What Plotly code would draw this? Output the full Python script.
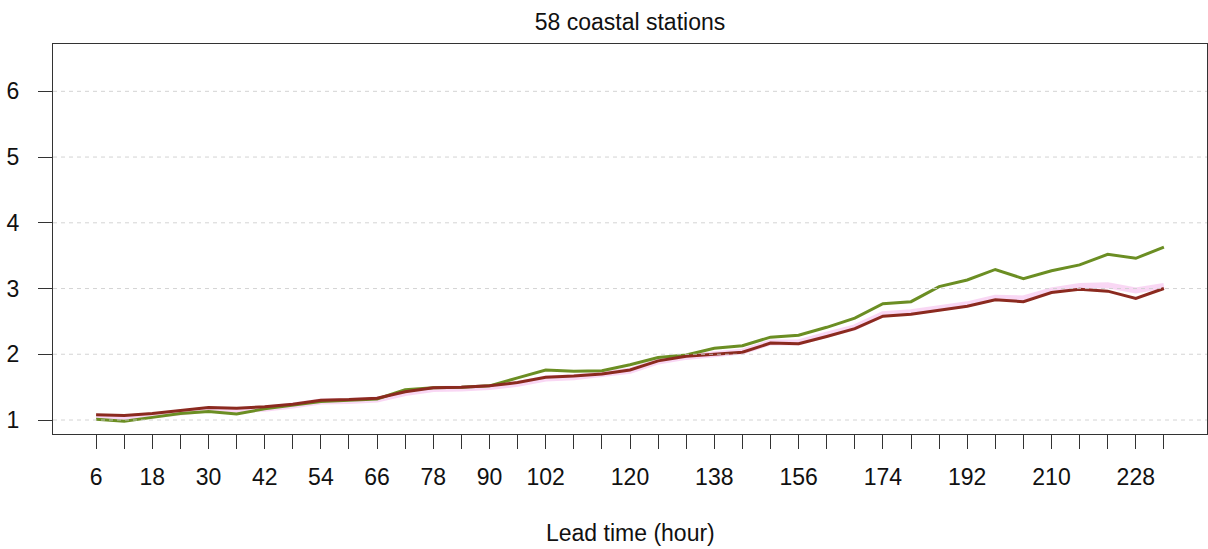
import plotly.graph_objects as go

# Lead times (hours), every 6 h
lead_time = list(range(6, 235, 6))

# Series values per lead time
green_vals = [1.01, 0.98, 1.04, 1.10, 1.13, 1.09, 1.17, 1.22, 1.28, 1.30, 1.32, 1.46, 1.49, 1.50, 1.52,
              1.64, 1.76, 1.74, 1.75, 1.84, 1.95, 1.99, 2.09, 2.13, 2.26, 2.29, 2.41, 2.55, 2.77, 2.80,
              3.03, 3.13, 3.29, 3.15, 3.27, 3.36, 3.52, 3.46, 3.63]
red_vals = [1.08, 1.07, 1.10, 1.15, 1.19, 1.18, 1.20, 1.24, 1.30, 1.31, 1.33, 1.43, 1.49, 1.50, 1.52,
            1.57, 1.65, 1.67, 1.70, 1.76, 1.90, 1.97, 2.00, 2.03, 2.17, 2.16, 2.27, 2.39, 2.58, 2.61,
            2.67, 2.73, 2.83, 2.80, 2.94, 2.99, 2.96, 2.85, 3.00]
pink_vals = [1.04, 1.04, 1.07, 1.12, 1.16, 1.15, 1.17, 1.22, 1.28, 1.29, 1.31, 1.41, 1.47, 1.48, 1.50,
             1.55, 1.63, 1.65, 1.69, 1.75, 1.89, 1.96, 2.00, 2.04, 2.18, 2.18, 2.30, 2.41, 2.61, 2.64,
             2.70, 2.76, 2.86, 2.85, 2.97, 3.04, 3.05, 2.97, 3.04]

# Tick labels shown along the x axis (other lead times get an unlabeled tick)
labeled_hours = [6, 18, 30, 42, 54, 66, 78, 90, 102, 120, 138, 156, 174, 192, 210, 228]
tick_text = [str(h) if h in labeled_hours else "" for h in lead_time]
y_ticks = [1, 2, 3, 4, 5, 6]

font_family = "Liberation Sans, Arial, sans-serif"
fs = 23

fig = go.Figure()
fig.add_trace(go.Scatter(x=lead_time, y=pink_vals, mode="lines",
                         line=dict(color="rgba(248,208,242,0.85)", width=6),
                         showlegend=False, hoverinfo="skip"))
fig.add_trace(go.Scatter(x=lead_time, y=green_vals, mode="lines",
                         line=dict(color="#6b8e23", width=3), showlegend=False))
fig.add_trace(go.Scatter(x=lead_time, y=red_vals, mode="lines",
                         line=dict(color="#8b2a1f", width=3), showlegend=False))

# Dashed horizontal guides, drawn above the lines
for yv in y_ticks:
    fig.add_shape(type="line", xref="paper", x0=0, x1=1, yref="y", y0=yv, y1=yv,
                  line=dict(color="rgba(205,205,205,0.85)", width=1, dash="4px,4px"),
                  layer="above")

fig.update_layout(
    width=1208, height=549,
    margin=dict(l=53, r=1, t=44, b=115),
    paper_bgcolor="white", plot_bgcolor="white",
    font=dict(family=font_family, size=fs, color="#111"),
    title=dict(text="58 coastal stations", x=0.5, xref="paper", xanchor="center",
               y=1 - 22 / 549, yref="container", yanchor="middle",
               font=dict(size=fs, family=font_family, color="#111")),
    xaxis=dict(range=[-3.2, 243.2], tickmode="array", tickvals=lead_time, ticktext=tick_text,
               ticks="outside", ticklen=14, tickwidth=1, tickcolor="#333",
               showline=True, linecolor="#333", linewidth=1, mirror=True,
               showgrid=False, zeroline=False, ticklabelstandoff=8,
               tickfont=dict(size=fs)),
    yaxis=dict(range=[0.787, 6.72], tickmode="array", tickvals=y_ticks,
               ticktext=[str(v) for v in y_ticks],
               ticks="outside", ticklen=14, tickwidth=1, tickcolor="#333",
               showline=True, linecolor="#333", linewidth=1, mirror=True,
               showgrid=False, zeroline=False, ticklabelstandoff=14,
               tickfont=dict(size=fs)),
    annotations=[dict(text="Lead time (hour)", xref="paper", yref="paper",
                      x=0.5, y=(434 - 533) / 390, xanchor="center", yanchor="middle",
                      showarrow=False, font=dict(size=fs, family=font_family, color="#111"))],
)

fig.write_html("out.html")
